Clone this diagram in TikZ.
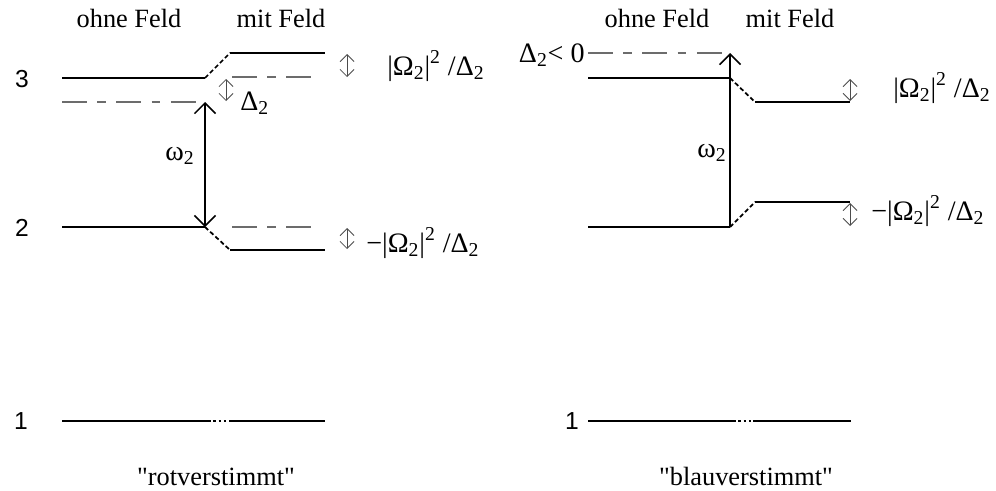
\documentclass[tikz,border=0pt]{standalone}
\usepackage{fontspec}
\setmainfont{Liberation Serif}
\newfontfamily\qfont{Liberation Serif}
\newfontfamily\digitfont{Liberation Sans}
\usetikzlibrary{arrows.meta}
\newcommand\ssub[1]{\textsubscript{#1}}
\newcommand\ssup[1]{\textsuperscript{#1}}
\begin{document}
\begin{tikzpicture}[x=0.02cm,y=-0.02cm,
  level/.style={line width=1pt},
  slant/.style={line width=1pt,dash pattern=on 2.5pt off 1.5pt},
  aux/.style={gray!85!black,line width=0.6pt,dash pattern=on 14pt off 6pt on 5pt off 6pt},
  shiftarr/.style={{Straight Barb[length=4pt,width=8pt]}-{Straight Barb[length=4pt,width=8pt]},gray!60!black,line width=0.5pt},
  trans/.style={line width=0.9pt},
  head/.style={font=\fontsize{15}{17}\selectfont,anchor=base,inner sep=0pt},
  lab/.style={font=\fontsize{16}{18}\selectfont,inner sep=0pt,anchor=base},
  num/.style={font=\digitfont\fontsize{14}{16}\selectfont,anchor=base,inner sep=0pt},
  ttl/.style={font=\qfont\fontsize{15}{17}\selectfont,anchor=base,inner sep=0pt}]
\useasboundingbox (0,0) rectangle (996,490);

% ---------- left diagram ----------
\node[head] (lohne) at (129,28) {ohne Feld};
\node[head] (lmit) at (281,28) {mit Feld};
\node[num] (l3) at (22,87) {3};
\node[num] (l2) at (22,236) {2};
\node[num] (l1) at (21,429) {1};

\coordinate (a3l) at (62,78);  \coordinate (a3m) at (205,78);
\coordinate (a3s) at (230,53); \coordinate (a3r) at (325,53);
\draw[level] (a3l) -- (a3m);
\draw[slant] (a3m) -- (a3s);
\draw[level] (a3s) -- (a3r);
\coordinate (d3a) at (232,77); \coordinate (d3b) at (318,77);
\draw[aux] (d3a) -- (d3b);
\coordinate (dla) at (62,102); \coordinate (dlb) at (205,102);
\draw[aux] (dla) -- (dlb);

\coordinate (a2l) at (62,227);  \coordinate (a2m) at (205,227);
\coordinate (a2s) at (230,250); \coordinate (a2r) at (325,250);
\draw[level] (a2l) -- (a2m);
\draw[slant] (a2m) -- (a2s);
\draw[level] (a2s) -- (a2r);
\coordinate (d2a) at (232,227); \coordinate (d2b) at (318,227);
\draw[aux] (d2a) -- (d2b);

\coordinate (a1l) at (62,421); \coordinate (a1m) at (208,421);
\coordinate (a1n) at (230,421); \coordinate (a1r) at (325,421);
\draw[level] (a1l) -- (a1m);
\draw[slant,dash pattern=on 1.5pt off 1.5pt] (a1m) -- (a1n);
\draw[level] (a1n) -- (a1r);

\draw[trans,{Straight Barb[length=6pt,width=12pt]}-{Straight Barb[length=6pt,width=12pt]}] (dlb) -- (a2m);
\node[lab,anchor=base west] (lw) at (165,160) {ω\ssub{2}};

\coordinate (s1a) at (347,54); \coordinate (s1b) at (347,77);
\draw[shiftarr] (s1a) -- (s1b);
\coordinate (s2a) at (226,79); \coordinate (s2b) at (226,101);
\draw[shiftarr] (s2a) -- (s2b);
\node[lab,anchor=base west] (ldel) at (240,110) {Δ\ssub{2}};
\coordinate (s3a) at (347,228); \coordinate (s3b) at (347,249);
\draw[shiftarr] (s3a) -- (s3b);

\node[lab,anchor=base west] (lO1) at (387,75) {|Ω\ssub{2}|\ssup{2} /Δ\ssub{2}};
\node[lab,anchor=base west] (lO2) at (366,252) {−|Ω\ssub{2}|\ssup{2} /Δ\ssub{2}};

\node[ttl] (lt) at (216,485) {"rotverstimmt"};

% ---------- right diagram ----------
\node[head] (rohne) at (657,28) {ohne Feld};
\node[head] (rmit) at (790,28) {mit Feld};
\node[num] (r1) at (572,429) {1};

\coordinate (b3l) at (588,78);  \coordinate (b3m) at (730,78);
\coordinate (b3s) at (755,102); \coordinate (b3r) at (850,102);
\draw[level] (b3l) -- (b3m);
\draw[slant] (b3m) -- (b3s);
\draw[level] (b3s) -- (b3r);
\coordinate (dra) at (588,53); \coordinate (drb) at (730,53);
\draw[aux] (dra) -- (drb);

\coordinate (b2l) at (588,227);  \coordinate (b2m) at (730,227);
\coordinate (b2s) at (755,202); \coordinate (b2r) at (850,202);
\draw[level] (b2l) -- (b2m);
\draw[slant] (b2m) -- (b2s);
\draw[level] (b2s) -- (b2r);

\coordinate (b1l) at (588,421); \coordinate (b1m) at (733,421);
\coordinate (b1n) at (753,421); \coordinate (b1r) at (851,421);
\draw[level] (b1l) -- (b1m);
\draw[slant,dash pattern=on 1.5pt off 1.5pt] (b1m) -- (b1n);
\draw[level] (b1n) -- (b1r);

\draw[trans,-{Straight Barb[length=6pt,width=12pt]}] (b2m) -- (drb);
\node[lab,anchor=base west] (rw) at (697,157) {ω\ssub{2}};
\node[lab,anchor=base east] (rdel) at (585,62) {Δ\ssub{2}< 0};

\coordinate (t1a) at (850,79); \coordinate (t1b) at (850,101);
\draw[shiftarr] (t1a) -- (t1b);
\coordinate (t2a) at (850,203); \coordinate (t2b) at (850,226);
\draw[shiftarr] (t2a) -- (t2b);

\node[lab,anchor=base west] (rO1) at (893,97) {|Ω\ssub{2}|\ssup{2} /Δ\ssub{2}};
\node[lab,anchor=base west] (rO2) at (871,220) {−|Ω\ssub{2}|\ssup{2} /Δ\ssub{2}};

\node[ttl] (rt) at (746,485) {"blauverstimmt"};
\end{tikzpicture}
\end{document}
